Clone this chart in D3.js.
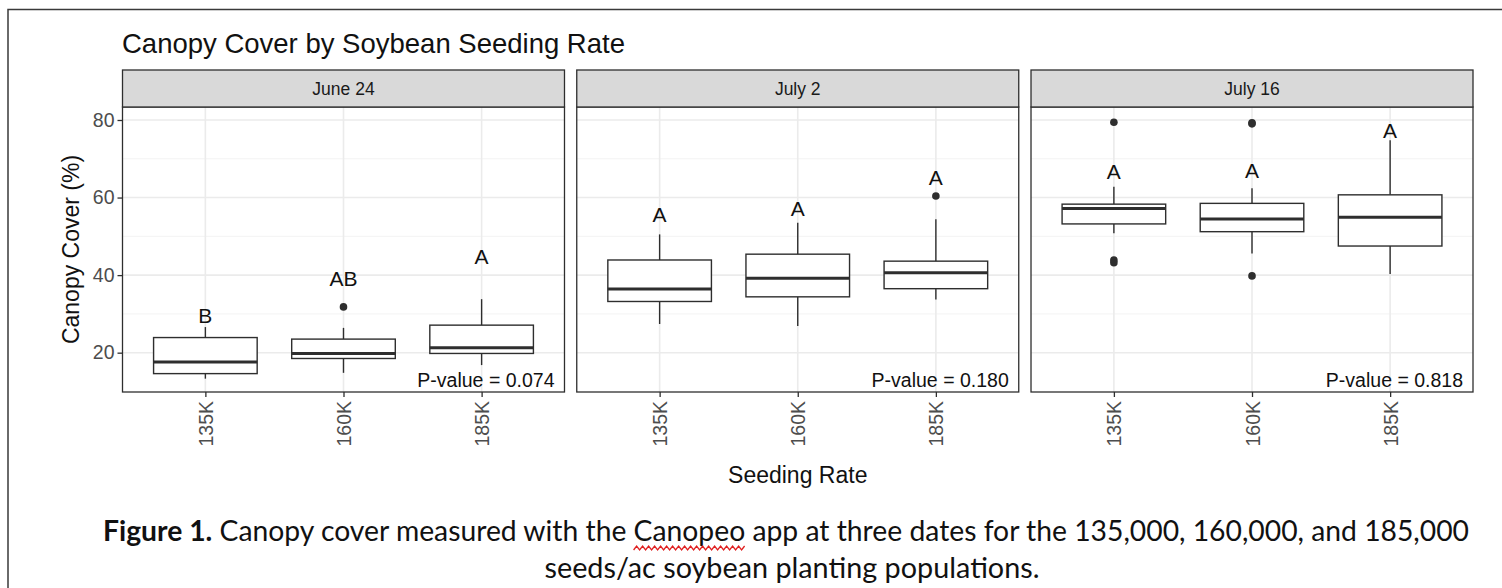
<!DOCTYPE html>
<html>
<head>
<meta charset="utf-8">
<script src="https://cdn.jsdelivr.net/npm/d3@7"></script>
<style>
  body { margin: 0; background: #fff; }
  svg { display: block; }
</style>
</head>
<body>
<svg id="chart" width="1502" height="588"></svg>
<script>
// data
const dates = ["June 24", "July 2", "July 16"];
const rates = ["135K", "160K", "185K"];

// box stats, one row per date, one value per seeding rate
const whiskerLow  = [[13.3, 14.8, 16.8], [27.4, 26.9, 33.7], [50.8, 45.6, 40.3]];
const q1          = [[14.6, 18.5, 19.8], [33.2, 34.4, 36.5], [53.2, 51.2, 47.5]];
const medians     = [[17.6, 19.8, 21.3], [36.4, 39.2, 40.6], [57.2, 54.5, 54.9]];
const q3          = [[23.9, 23.5, 27.1], [43.9, 45.4, 43.6], [58.3, 58.5, 60.7]];
const whiskerHigh = [[26.6, 26.4, 33.8], [50.5, 53.5, 54.4], [62.8, 62.4, 74.8]];
const outliers = [
  [[], [31.8], []],
  [[], [], [60.4]],
  [[79.4, 43.9, 43.2], [79.3, 79.0, 39.8], []]
];
const letters = [["B", "AB", "A"], ["A", "A", "A"], ["A", "A", "A"]];
const letterY = [[29.6, 39.1, 44.7], [55.7, 57.2, 65.2], [66.7, 67.1, 77.2]];
const pValues = ["0.074", "0.180", "0.818"];
const yTicks = [20, 40, 60, 80];
const yMinor = [30, 50, 70];

const svg = d3.select("#chart");

// layout
const panelTop = 107, panelBottom = 392;
const stripTop = 70;
const panel = d3.scaleBand().domain(dates).range([122.5, 1473]).paddingInner(0.027);
const y = d3.scaleLinear().domain([9.86, 83.35]).range([panelBottom, panelTop]);
const x = d3.scalePoint().domain(rates).range([0, panel.bandwidth()]).padding(0.6);
const boxW = x.step() * 0.75;
const dark = "#2e2e2e";
const sans = "Liberation Sans, Arial, sans-serif";

// outer frame (left and top edges only visible)
svg.append("path")
  .attr("d", "M8,588 L8,9.5 L1502,9.5")
  .attr("fill", "none")
  .attr("stroke", "#3a3a3a")
  .attr("stroke-width", 1.5);

// title
svg.append("text")
  .attr("x", 122)
  .attr("y", 53)
  .attr("font-family", sans)
  .attr("font-size", 27.5)
  .attr("fill", "#111")
  .text("Canopy Cover by Soybean Seeding Rate");

dates.forEach((date, di) => {
  const g = svg.append("g").attr("transform", `translate(${panel(date)},0)`);
  const w = panel.bandwidth();

  // grid
  g.selectAll(".minor").data(yMinor).enter().append("line")
    .attr("x1", 0).attr("x2", w)
    .attr("y1", d => y(d)).attr("y2", d => y(d))
    .attr("stroke", "#f3f3f3").attr("stroke-width", 1);
  g.selectAll(".major").data(yTicks).enter().append("line")
    .attr("x1", 0).attr("x2", w)
    .attr("y1", d => y(d)).attr("y2", d => y(d))
    .attr("stroke", "#ebebeb").attr("stroke-width", 1.6);
  g.selectAll(".vgrid").data(rates).enter().append("line")
    .attr("x1", d => x(d)).attr("x2", d => x(d))
    .attr("y1", panelTop).attr("y2", panelBottom)
    .attr("stroke", "#ebebeb").attr("stroke-width", 1.6);

  // boxes
  rates.forEach((r, ri) => {
    const cx = x(r);
    g.append("line")
      .attr("x1", cx).attr("x2", cx)
      .attr("y1", y(q3[di][ri])).attr("y2", y(whiskerHigh[di][ri]))
      .attr("stroke", dark).attr("stroke-width", 1.4);
    g.append("line")
      .attr("x1", cx).attr("x2", cx)
      .attr("y1", y(q1[di][ri])).attr("y2", y(whiskerLow[di][ri]))
      .attr("stroke", dark).attr("stroke-width", 1.4);
    g.append("rect")
      .attr("x", cx - boxW / 2)
      .attr("y", y(q3[di][ri]))
      .attr("width", boxW)
      .attr("height", y(q1[di][ri]) - y(q3[di][ri]))
      .attr("fill", "#fff")
      .attr("stroke", dark).attr("stroke-width", 1.4);
    g.append("line")
      .attr("x1", cx - boxW / 2).attr("x2", cx + boxW / 2)
      .attr("y1", y(medians[di][ri])).attr("y2", y(medians[di][ri]))
      .attr("stroke", dark).attr("stroke-width", 3);
    g.selectAll(null).data(outliers[di][ri]).enter().append("circle")
      .attr("cx", cx).attr("cy", d => y(d)).attr("r", 3.8)
      .attr("fill", dark);
    g.append("text")
      .attr("x", cx).attr("y", y(letterY[di][ri]))
      .attr("dy", "0.36em")
      .attr("text-anchor", "middle")
      .attr("font-family", sans)
      .attr("font-size", 21)
      .attr("fill", "#111")
      .text(letters[di][ri]);
  });

  // p-value
  g.append("text")
    .attr("x", w - 10).attr("y", 387)
    .attr("text-anchor", "end")
    .attr("font-family", sans)
    .attr("font-size", 19.5)
    .attr("fill", "#111")
    .text(`P-value = ${pValues[di]}`);

  // panel border
  g.append("rect")
    .attr("x", 0).attr("y", panelTop)
    .attr("width", w).attr("height", panelBottom - panelTop)
    .attr("fill", "none").attr("stroke", dark).attr("stroke-width", 1.3);

  // strip
  g.append("rect")
    .attr("x", 0).attr("y", stripTop)
    .attr("width", w).attr("height", panelTop - stripTop)
    .attr("fill", "#d9d9d9").attr("stroke", dark).attr("stroke-width", 1.3);
  g.append("text")
    .attr("x", w / 2).attr("y", (stripTop + panelTop) / 2)
    .attr("dy", "0.36em")
    .attr("text-anchor", "middle")
    .attr("font-family", sans)
    .attr("font-size", 17.5)
    .attr("fill", "#1a1a1a")
    .text(date);

  // x axis
  const xAxis = g.append("g")
    .attr("transform", `translate(0,${panelBottom})`)
    .call(d3.axisBottom(x).tickSize(5).tickPadding(3));
  xAxis.select(".domain").remove();
  xAxis.selectAll("line").attr("stroke", dark).attr("stroke-width", 1.3);
  xAxis.selectAll("text")
    .attr("transform", "rotate(-90)")
    .attr("text-anchor", "end")
    .attr("x", -9).attr("y", 0).attr("dy", "0.36em")
    .attr("font-family", sans)
    .attr("font-size", 19.5)
    .attr("fill", "#4d4d4d");

  if (di === 0) {
    const yAxis = g.append("g")
      .call(d3.axisLeft(y).tickValues(yTicks).tickSize(5).tickPadding(3));
    yAxis.select(".domain").remove();
    yAxis.selectAll("line").attr("stroke", dark).attr("stroke-width", 1.3);
    yAxis.selectAll("text")
      .attr("font-family", sans)
      .attr("font-size", 19.5)
      .attr("fill", "#4d4d4d");
  }
});

// axis titles
svg.append("text")
  .attr("transform", `translate(79,${(panelTop + panelBottom) / 2}) rotate(-90)`)
  .attr("text-anchor", "middle")
  .attr("font-family", sans)
  .attr("font-size", 23)
  .attr("fill", "#111")
  .text("Canopy Cover (%)");

svg.append("text")
  .attr("x", (panel(dates[0]) + panel(dates[2]) + panel.bandwidth()) / 2)
  .attr("y", 483)
  .attr("text-anchor", "middle")
  .attr("font-family", sans)
  .attr("font-size", 23)
  .attr("fill", "#111")
  .text("Seeding Rate");

// caption
const capFont = "Lato, 'Open Sans', sans-serif";
const line1 = svg.append("text")
  .attr("x", 103).attr("y", 541)
  .attr("font-family", capFont)
  .attr("font-size", 29)
  .attr("fill", "#111")
  .attr("textLength", 1366)
  .attr("lengthAdjust", "spacingAndGlyphs");
line1.append("tspan").attr("font-weight", "bold").text("Figure 1.");
const rest = " Canopy cover measured with the Canopeo app at three dates for the 135,000, 160,000, and 185,000";
line1.append("tspan").text(rest);

svg.append("text")
  .attr("x", 792).attr("y", 578)
  .attr("text-anchor", "middle")
  .attr("font-family", capFont)
  .attr("font-size", 29)
  .attr("fill", "#111")
  .attr("textLength", 495)
  .attr("lengthAdjust", "spacingAndGlyphs")
  .text("seeds/ac soybean planting populations.");

// red spell-check squiggle under "Canopeo"
try {
  const full = "Figure 1." + rest;
  const i0 = full.indexOf("Canopeo");
  const n = line1.node();
  const x0 = n.getStartPositionOfChar(i0).x;
  const x1 = n.getEndPositionOfChar(i0 + 6).x;
  const pts = [];
  for (let px = x0, k = 0; px <= x1; px += 3, k++) pts.push([px, 548 + (k % 2 ? -2 : 2)]);
  svg.append("path")
    .attr("d", d3.line()(pts))
    .attr("fill", "none")
    .attr("stroke", "#e02020")
    .attr("stroke-width", 1.3);
} catch (e) {}
</script>
</body>
</html>
